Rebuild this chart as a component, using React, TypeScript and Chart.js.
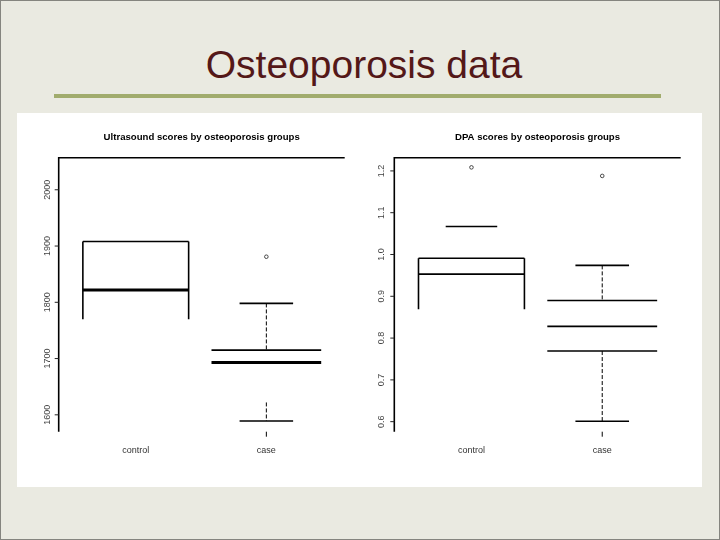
import React, { useEffect, useRef } from "react";
import { Chart, registerables } from "chart.js";

Chart.register(...registerables);

// ---------- data ----------
const categories = ["control", "case"];
const categoryPositions = [1, 2];

// Ultrasound scores
const usTicks = [1600, 1700, 1800, 1900, 2000];
// control: [box side end, median, box top]
const usControl = [1770, 1822, 1908];
// case: [lower cap, lower whisker start, median, Q3, upper cap]
const usCase = [1589, 1622, 1693, 1715, 1798];
const usOutliers = [null, 1881];

// DPA scores
const dpaTicks = [0.6, 0.7, 0.8, 0.9, 1.0, 1.1, 1.2];
// control: [box side end, median, box top, upper cap]
const dpaControl = [0.869, 0.953, 0.991, 1.067];
// case: [lower cap, Q1, median, Q3, upper cap]
const dpaCase = [0.601, 0.769, 0.828, 0.89, 0.974];
const dpaOutliers = [1.2085, 1.188];

// ---------- helpers ----------
const BOX_HALF = 0.405;
const CASE_HALF = 0.42;
const CAP_HALF = 0.205;

function seg(x1: number, x2: number, y1: number, y2: number, width = 1.6, dash: number[] = []) {
  return {
    data: [
      { x: x1, y: y1 },
      { x: x2, y: y2 },
    ],
    showLine: true,
    borderColor: "#000",
    borderWidth: width,
    borderDash: dash,
    pointRadius: 0,
    fill: false,
    tension: 0,
  };
}

function outlierSet(vals: (number | null)[]) {
  const pts: { x: number; y: number }[] = [];
  vals.forEach((v, i) => {
    if (v !== null) pts.push({ x: categoryPositions[i], y: v });
  });
  return {
    data: pts,
    showLine: false,
    pointRadius: 1.8,
    pointBorderWidth: 0.8,
    pointBorderColor: "#222",
    pointBackgroundColor: "#fff",
  };
}

function ultrasoundDatasets() {
  const c = categoryPositions[0];
  const k = categoryPositions[1];
  const [sideEnd, med, top] = usControl;
  const [lowCap, lowWh, cMed, q3, upCap] = usCase;
  return [
    seg(c - BOX_HALF, c + BOX_HALF, top, top),
    seg(c - BOX_HALF, c + BOX_HALF, med, med, 3),
    seg(c - BOX_HALF, c - BOX_HALF, top, sideEnd),
    seg(c + BOX_HALF, c + BOX_HALF, top, sideEnd),
    seg(k - CAP_HALF, k + CAP_HALF, upCap, upCap),
    seg(k, k, upCap, q3, 1, [4, 2]),
    seg(k - CASE_HALF, k + CASE_HALF, q3, q3),
    seg(k - CASE_HALF, k + CASE_HALF, cMed, cMed, 3),
    seg(k, k, lowWh, lowCap, 1, [4, 2]),
    seg(k - CAP_HALF, k + CAP_HALF, lowCap, lowCap),
    outlierSet(usOutliers),
  ];
}

function dpaDatasets() {
  const c = categoryPositions[0];
  const k = categoryPositions[1];
  const [sideEnd, med, top, cap] = dpaControl;
  const [lowCap, q1, cMed, q3, upCap] = dpaCase;
  return [
    seg(c - 0.197, c + 0.197, cap, cap),
    seg(c - BOX_HALF, c + BOX_HALF, top, top),
    seg(c - BOX_HALF, c + BOX_HALF, med, med),
    seg(c - BOX_HALF, c - BOX_HALF, top, sideEnd),
    seg(c + BOX_HALF, c + BOX_HALF, top, sideEnd),
    seg(k - CAP_HALF, k + CAP_HALF, upCap, upCap),
    seg(k, k, upCap, q3, 1, [4, 2]),
    seg(k - CASE_HALF, k + CASE_HALF, q3, q3),
    seg(k - CASE_HALF, k + CASE_HALF, cMed, cMed),
    seg(k - CASE_HALF, k + CASE_HALF, q1, q1),
    seg(k, k, q1, lowCap, 1, [4, 2]),
    seg(k - CAP_HALF, k + CAP_HALF, lowCap, lowCap),
    outlierSet(dpaOutliers),
  ];
}

function framePlugin(title: string, ticks: number[], fmt: (v: number) => string, labelOffset: number) {
  return {
    id: "rframe",
    afterDraw(chart: any) {
      const { ctx, chartArea } = chart;
      const xs = chart.scales.x;
      const ys = chart.scales.y;
      const { left, top, right, bottom } = chartArea;
      ctx.save();
      ctx.strokeStyle = "#000";
      ctx.lineWidth = 1.6;
      ctx.setLineDash([]);
      ctx.beginPath();
      ctx.moveTo(left, bottom);
      ctx.lineTo(left, top);
      ctx.lineTo(right, top);
      ctx.stroke();

      // y ticks and rotated labels
      ctx.lineWidth = 1;
      ctx.strokeStyle = "#222";
      ctx.fillStyle = "#444";
      ctx.font = '9px "Liberation Sans", Arial, sans-serif';
      ticks.forEach((v) => {
        const py = ys.getPixelForValue(v);
        ctx.beginPath();
        ctx.moveTo(left - 4, py);
        ctx.lineTo(left, py);
        ctx.stroke();
        ctx.save();
        ctx.translate(left - labelOffset, py);
        ctx.rotate(-Math.PI / 2);
        ctx.textAlign = "center";
        ctx.textBaseline = "middle";
        ctx.fillText(fmt(v), 0, 0);
        ctx.restore();
      });

      // x labels
      ctx.fillStyle = "#333";
      ctx.textAlign = "center";
      ctx.textBaseline = "middle";
      categories.forEach((lab, i) => {
        const px = xs.getPixelForValue(categoryPositions[i]);
        ctx.fillText(lab, px, bottom + 19);
      });
      // small tick under "case"
      const pk = xs.getPixelForValue(categoryPositions[1]);
      ctx.strokeStyle = "#000";
      ctx.beginPath();
      ctx.moveTo(pk, bottom);
      ctx.lineTo(pk, bottom + 5);
      ctx.stroke();

      // title
      ctx.fillStyle = "#000";
      ctx.font = 'bold 9.6px "Liberation Sans", Arial, sans-serif';
      ctx.fillText(title, (left + right) / 2, top - 20.5);
      ctx.restore();
    },
  };
}

function makeChart(
  canvas: HTMLCanvasElement,
  datasets: any[],
  yMin: number,
  yMax: number,
  padding: any,
  plugin: any
) {
  return new Chart(canvas, {
    type: "scatter",
    data: { datasets },
    options: {
      responsive: false,
      animation: false,
      devicePixelRatio: 1,
      events: [],
      layout: { padding },
      plugins: {
        legend: { display: false },
        tooltip: { enabled: false },
        title: { display: false },
      },
      scales: {
        x: { type: "linear", min: 0.41, max: 2.6, display: false },
        y: { type: "linear", min: yMin, max: yMax, display: false },
      },
    },
    plugins: [plugin],
  } as any);
}

export default function App() {
  const leftRef = useRef<HTMLCanvasElement>(null);
  const rightRef = useRef<HTMLCanvasElement>(null);

  useEffect(() => {
    document.body.style.margin = "0";
    const c1 = makeChart(
      leftRef.current!,
      ultrasoundDatasets(),
      1570,
      2057,
      { left: 40.7, top: 44.7, right: 15.3, bottom: 55.3 },
      framePlugin("Ultrasound scores by osteoporosis groups", usTicks, (v) => String(v), 11.5)
    );
    const c2 = makeChart(
      rightRef.current!,
      dpaDatasets(),
      0.576,
      1.2316,
      { left: 34.3, top: 44.7, right: 21.3, bottom: 55.3 },
      framePlugin("DPA scores by osteoporosis groups", dpaTicks, (v) => v.toFixed(1), 12.5)
    );
    return () => {
      c1.destroy();
      c2.destroy();
    };
  }, []);

  return (
    <div
      style={{
        position: "relative",
        width: 720,
        height: 540,
        background: "#EAEAE1",
        border: "1px solid #85857f",
        boxSizing: "border-box",
        overflow: "hidden",
        fontFamily: '"Liberation Sans", Arial, sans-serif',
      }}
    >
      <div
        style={{
          position: "absolute",
          left: 0,
          top: 44,
          width: 726,
          textAlign: "center",
          fontSize: 39,
          lineHeight: "39px",
          color: "#541818",
          whiteSpace: "nowrap",
        }}
      >
        Osteoporosis data
      </div>
      <div
        style={{
          position: "absolute",
          left: 53,
          top: 93,
          width: 607,
          height: 4,
          background: "#A1AC6D",
        }}
      />
      <div
        style={{
          position: "absolute",
          left: 16,
          top: 112,
          width: 685,
          height: 374,
          background: "#fff",
        }}
      />
      <canvas
        ref={leftRef}
        width={342}
        height={374}
        style={{ position: "absolute", left: 17, top: 112, width: 342, height: 374 }}
      />
      <canvas
        ref={rightRef}
        width={342}
        height={374}
        style={{ position: "absolute", left: 359, top: 112, width: 342, height: 374 }}
      />
    </div>
  );
}
